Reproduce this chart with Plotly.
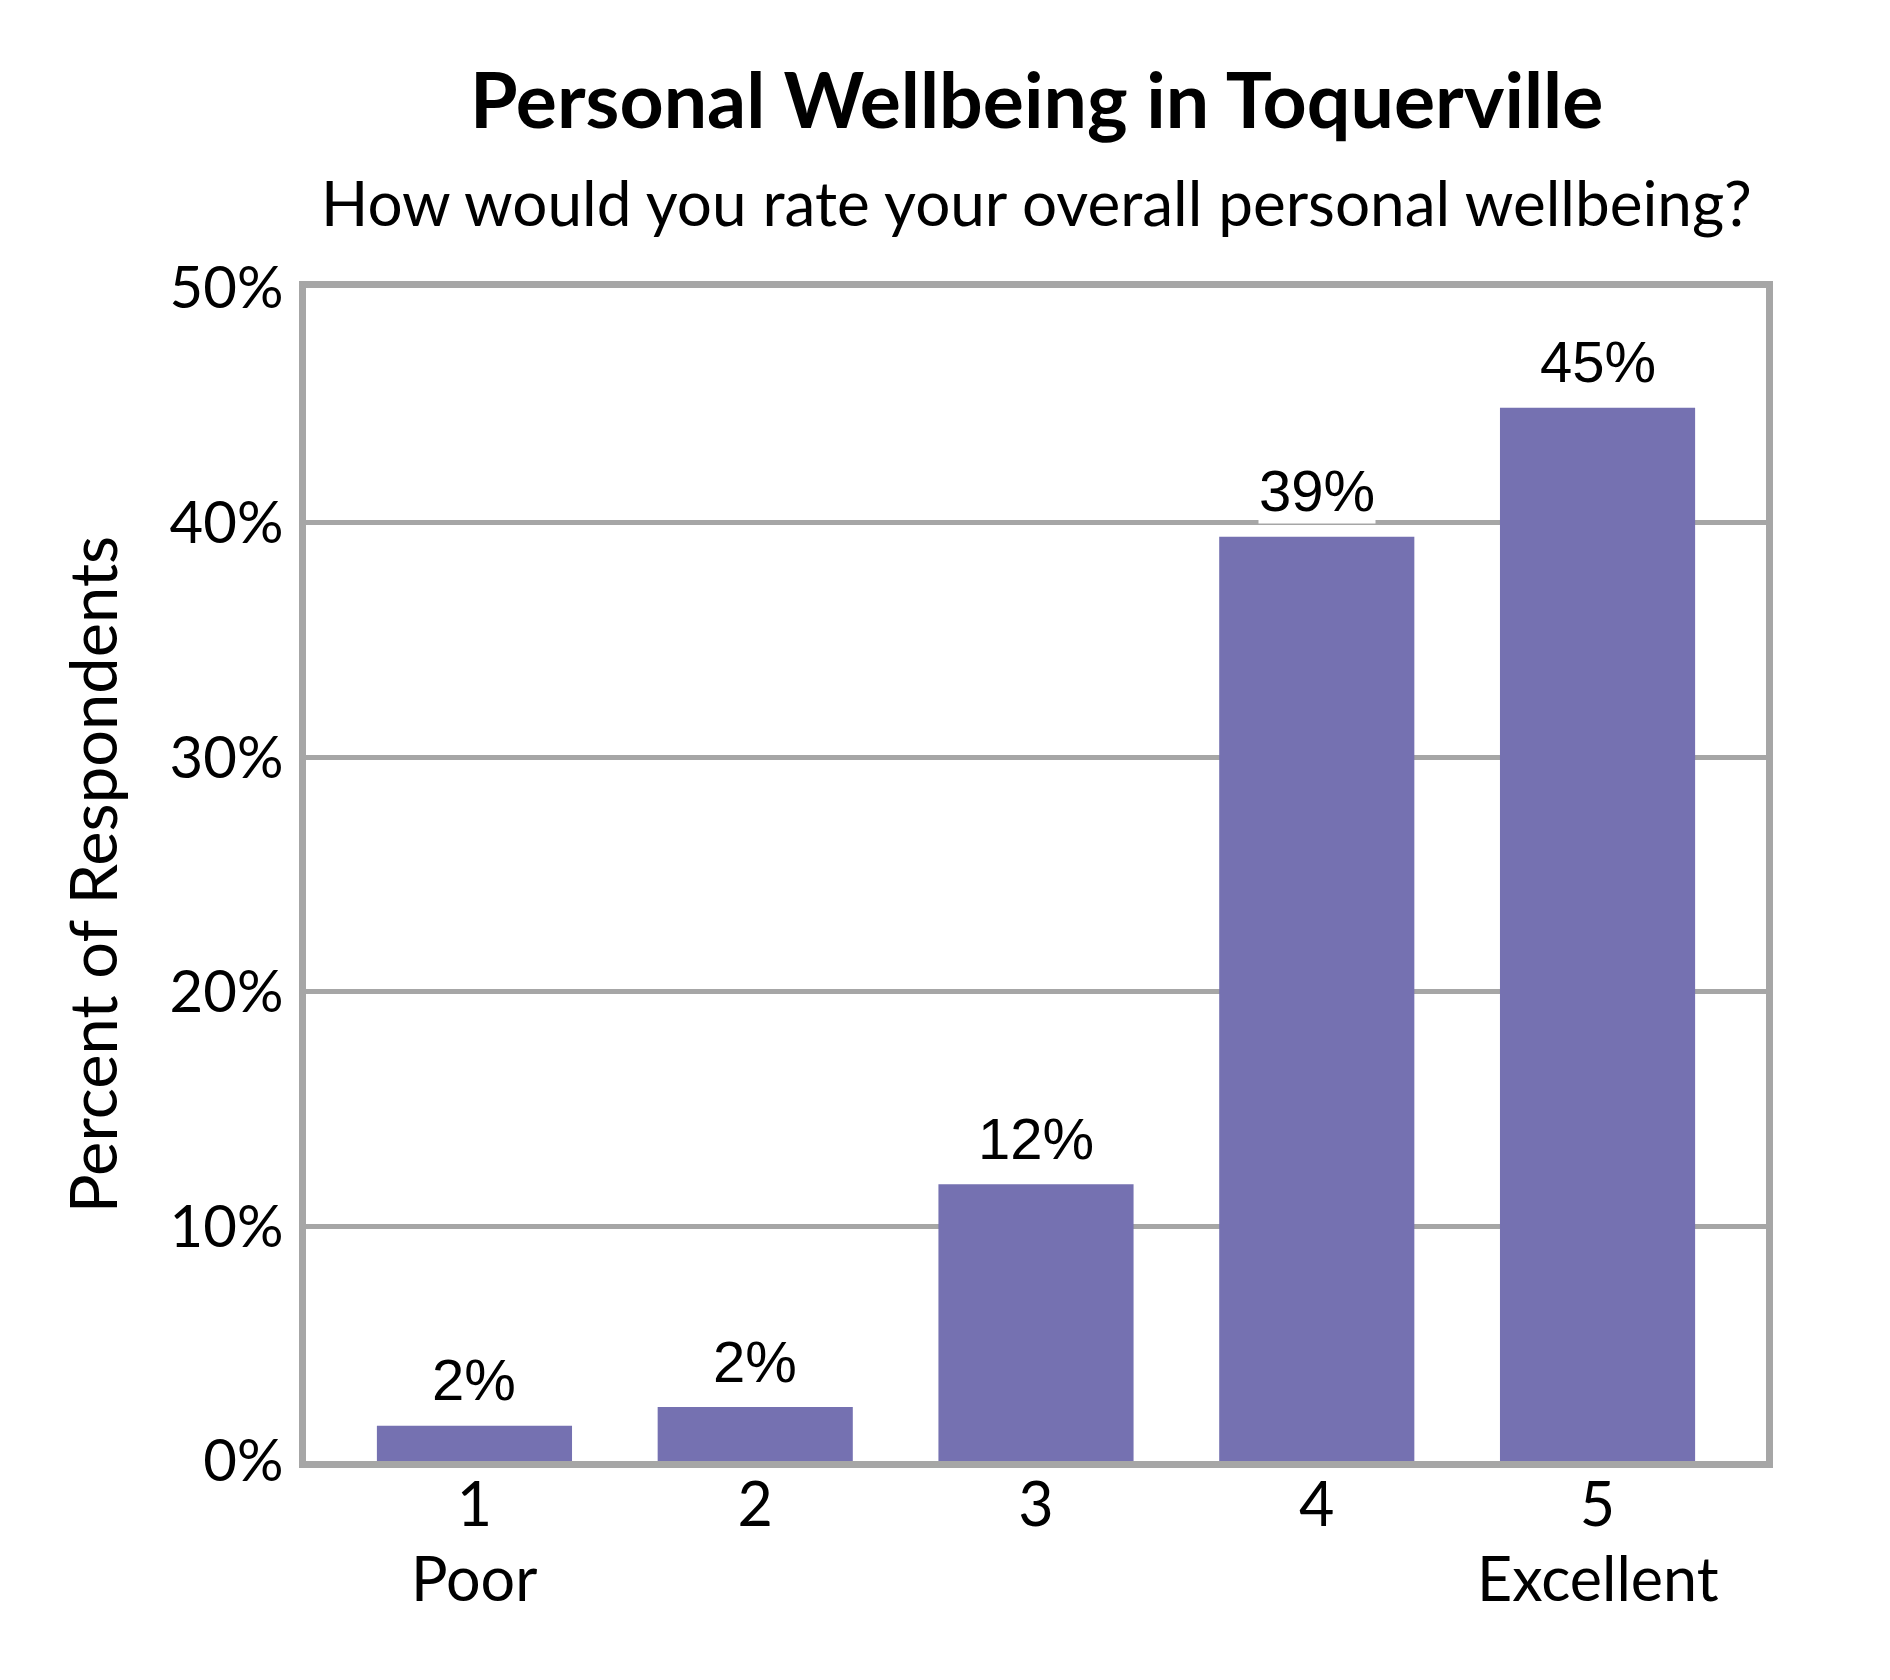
import plotly.graph_objects as go

# values (percent of respondents)
ratings = [1, 2, 3, 4, 5]
tick_labels = ["1", "2", "3", "4", "5"]
scale_ends = {1: "Poor", 5: "Excellent"}
percents = [1.5, 2.3, 11.8, 39.4, 44.9]
bar_labels = ["2%", "2%", "12%", "39%", "45%"]

TITLE = "Personal Wellbeing in Toquerville"
SUBTITLE = "How would you rate your overall personal wellbeing?"

BAR_COLOR = "#7571b1"
FRAME_COLOR = "#a6a6a6"
UI_FONT = "Lato"
LABEL_FONT = "Liberation Sans"

fig = go.Figure()
fig.add_trace(go.Bar(
    x=ratings,
    y=percents,
    marker=dict(color=BAR_COLOR, line=dict(width=0)),
    hoverinfo="skip",
))

# value labels above each bar, white box so the gridline doesn't cross them
for r, p, lab in zip(ratings, percents, bar_labels):
    fig.add_annotation(
        x=r, y=p, text=lab, showarrow=False,
        yanchor="middle", yshift=46,
        font=dict(family=LABEL_FONT, size=58, color="black"),
        bgcolor="white", borderpad=0,
    )

# second line under the end points of the scale
for r, word in scale_ends.items():
    fig.add_annotation(
        x=r, y=-0.099, xref="x", yref="paper", text=word, showarrow=False,
        yanchor="middle",
        font=dict(family=UI_FONT, size=61, color="black"),
    )

fig.add_annotation(
    x=0.5, y=1.162, xref="paper", yref="paper", text=f"<b>{TITLE}</b>",
    showarrow=False, yanchor="middle",
    font=dict(family=UI_FONT, size=77, color="black"),
)
fig.add_annotation(
    x=0.5, y=1.073, xref="paper", yref="paper", text=SUBTITLE,
    showarrow=False, yanchor="middle",
    font=dict(family=UI_FONT, size=62, color="black"),
)

fig.update_layout(
    width=1890,
    height=1680,
    margin=dict(l=298, r=132, t=280, b=227),
    paper_bgcolor="white",
    plot_bgcolor="white",
    bargap=0.305,
    showlegend=False,
    font=dict(family=UI_FONT, size=58, color="black"),
)

fig.update_xaxes(
    range=[0.4, 5.6],
    tickvals=ratings,
    ticktext=tick_labels,
    showgrid=False,
    zeroline=False,
    showline=True, mirror=True,
    linecolor=FRAME_COLOR, linewidth=7,
    ticks="", ticklabelstandoff=-15,
    tickfont=dict(family=UI_FONT, size=61),
)
fig.update_yaxes(
    range=[0, 50],
    dtick=10,
    ticksuffix="%",
    showgrid=True, gridcolor=FRAME_COLOR, gridwidth=5,
    zeroline=False,
    showline=True, mirror=True,
    linecolor=FRAME_COLOR, linewidth=7,
    ticks="", ticklabelstandoff=4,
    tickfont=dict(family=UI_FONT, size=58),
    title=dict(text="Percent of Respondents", standoff=33,
               font=dict(family=UI_FONT, size=65)),
)

fig.write_html("out.html")
